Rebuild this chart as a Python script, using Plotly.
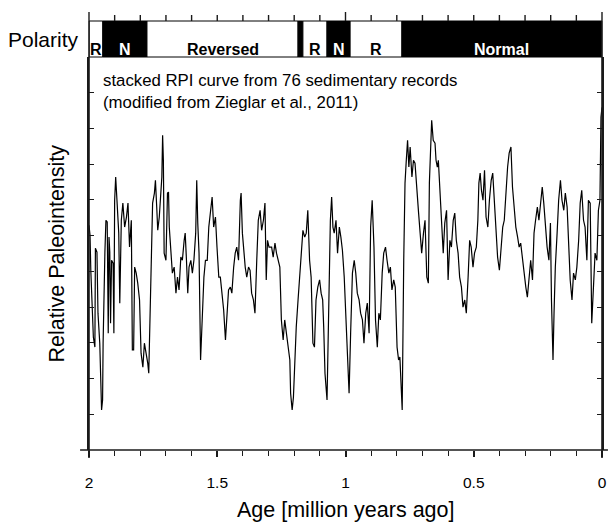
import plotly.graph_objects as go

# ---- data (age in Ma, relative paleointensity in arbitrary units) ----
age = [2.000, 1.996, 1.993, 1.986, 1.983, 1.977, 1.975, 1.969, 1.965, 1.958,
       1.954, 1.951, 1.947, 1.945, 1.938, 1.934, 1.929, 1.925, 1.922, 1.919,
       1.916, 1.912, 1.906, 1.903, 1.900, 1.896, 1.891, 1.884, 1.880, 1.874,
       1.868, 1.861, 1.854, 1.848, 1.842, 1.835, 1.831, 1.826, 1.822, 1.816,
       1.810, 1.803, 1.797, 1.790, 1.784, 1.777, 1.771, 1.767, 1.762, 1.758,
       1.752, 1.745, 1.741, 1.736, 1.732, 1.726, 1.719, 1.716, 1.713, 1.710,
       1.707, 1.700, 1.694, 1.690, 1.687, 1.681, 1.675, 1.668, 1.661, 1.655,
       1.649, 1.642, 1.636, 1.629, 1.625, 1.620, 1.615, 1.610, 1.603, 1.597,
       1.591, 1.584, 1.580, 1.576, 1.571, 1.565, 1.559, 1.552, 1.546, 1.539,
       1.533, 1.526, 1.520, 1.514, 1.507, 1.501, 1.494, 1.488, 1.481, 1.475,
       1.468, 1.462, 1.456, 1.449, 1.443, 1.436, 1.430, 1.424, 1.417, 1.410,
       1.407, 1.402, 1.398, 1.391, 1.385, 1.378, 1.372, 1.366, 1.359, 1.353,
       1.346, 1.340, 1.333, 1.327, 1.320, 1.314, 1.309, 1.304, 1.298, 1.288,
       1.282, 1.275, 1.269, 1.263, 1.256, 1.250, 1.243, 1.237, 1.231, 1.224,
       1.217, 1.214, 1.208, 1.203, 1.198, 1.192, 1.185, 1.179, 1.173, 1.166,
       1.159, 1.153, 1.147, 1.140, 1.134, 1.127, 1.121, 1.115, 1.108, 1.101,
       1.095, 1.089, 1.085, 1.080, 1.072, 1.067, 1.059, 1.054, 1.049, 1.044,
       1.037, 1.031, 1.024, 1.018, 1.012, 1.005, 0.999, 0.992, 0.986, 0.980,
       0.973, 0.966, 0.960, 0.954, 0.947, 0.941, 0.934, 0.928, 0.921, 0.915,
       0.908, 0.902, 0.896, 0.889, 0.883, 0.876, 0.870, 0.864, 0.857, 0.851,
       0.844, 0.838, 0.831, 0.825, 0.819, 0.812, 0.806, 0.799, 0.793, 0.788,
       0.783, 0.779, 0.773, 0.768, 0.763, 0.758, 0.753, 0.748, 0.741, 0.735,
       0.729, 0.722, 0.715, 0.709, 0.703, 0.696, 0.690, 0.683, 0.677, 0.673,
       0.668, 0.664, 0.658, 0.651, 0.647, 0.642, 0.638, 0.632, 0.625, 0.619,
       0.613, 0.606, 0.600, 0.593, 0.587, 0.580, 0.574, 0.568, 0.561, 0.555,
       0.548, 0.542, 0.535, 0.529, 0.522, 0.516, 0.510, 0.503, 0.497, 0.490,
       0.484, 0.480, 0.475, 0.470, 0.464, 0.458, 0.452, 0.445, 0.439, 0.432,
       0.426, 0.420, 0.413, 0.407, 0.400, 0.394, 0.387, 0.381, 0.375, 0.368,
       0.362, 0.355, 0.349, 0.342, 0.336, 0.329, 0.323, 0.317, 0.310, 0.304,
       0.297, 0.291, 0.284, 0.278, 0.271, 0.265, 0.259, 0.252, 0.246, 0.239,
       0.233, 0.227, 0.220, 0.214, 0.207, 0.201, 0.197, 0.194, 0.191, 0.187,
       0.182, 0.175, 0.169, 0.162, 0.156, 0.149, 0.143, 0.136, 0.130, 0.124,
       0.117, 0.111, 0.104, 0.098, 0.091, 0.085, 0.079, 0.072, 0.066, 0.059,
       0.053, 0.046, 0.040, 0.033, 0.027, 0.020, 0.014, 0.008, 0.004, 0.000]

rpi = [6.29, 6.01, 5.03, 4.00, 3.16, 2.88, 5.65, 5.54, 3.83, 2.99,
       1.48, 1.12, 1.40, 2.99, 5.54, 6.43, 6.38, 3.27, 5.96, 5.54,
       3.55, 5.31, 5.23, 3.27, 6.99, 7.64, 6.99, 6.07, 4.11, 6.43,
       6.91, 6.24, 6.52, 6.91, 5.68, 6.43, 2.80, 2.80, 5.12, 4.95,
       4.67, 4.20, 2.71, 2.32, 2.99, 2.71, 2.43, 2.15, 3.83, 5.12,
       6.91, 7.19, 7.55, 6.80, 6.15, 6.52, 7.36, 7.64, 8.81, 8.11,
       5.51, 5.31, 7.19, 7.22, 6.24, 5.68, 4.95, 5.12, 4.39, 4.84,
       4.48, 5.40, 5.31, 5.87, 6.07, 5.31, 4.39, 5.12, 5.31, 4.95,
       5.31, 6.07, 7.55, 6.35, 5.51, 2.52, 3.64, 4.84, 5.31, 5.31,
       6.24, 6.63, 7.08, 6.24, 6.52, 5.68, 4.84, 4.84, 4.39, 3.92,
       3.08, 3.83, 4.48, 4.56, 4.39, 5.12, 5.51, 5.68, 5.31, 6.99,
       7.19, 6.07, 5.68, 5.12, 4.84, 5.12, 5.03, 4.39, 4.20, 3.83,
       5.31, 6.43, 6.71, 6.15, 6.43, 6.91, 4.76, 5.87, 5.68, 5.68,
       5.40, 5.79, 5.51, 5.31, 5.12, 3.64, 3.08, 3.64, 3.27, 2.99,
       2.52, 1.59, 1.12, 1.48, 2.52, 3.44, 4.20, 4.76, 5.31, 6.15,
       5.96, 6.07, 6.71, 5.31, 4.84, 2.99, 2.88, 4.20, 4.56, 4.76,
       4.39, 4.20, 3.44, 2.15, 1.40, 3.44, 6.43, 7.08, 6.24, 6.07,
       6.43, 5.51, 6.24, 5.96, 5.59, 4.84, 3.83, 2.52, 1.59, 3.27,
       4.95, 5.31, 4.95, 4.39, 4.20, 3.83, 3.64, 2.99, 3.83, 4.11,
       3.27, 6.24, 6.99, 5.68, 3.64, 2.88, 3.83, 3.64, 4.95, 5.51,
       5.68, 5.31, 4.95, 5.12, 4.48, 4.76, 4.56, 2.88, 2.52, 2.60,
       1.59, 1.12, 5.31, 7.47, 8.11, 8.67, 7.92, 8.48, 7.64, 8.11,
       8.03, 7.19, 6.63, 6.07, 5.51, 6.07, 6.43, 4.84, 4.67, 7.47,
       8.31, 9.23, 8.67, 8.59, 8.11, 7.92, 8.11, 7.36, 6.43, 5.51,
       6.35, 6.71, 4.76, 5.87, 5.68, 6.43, 6.63, 5.87, 5.51, 4.84,
       4.56, 4.00, 4.20, 3.83, 4.84, 5.87, 5.68, 5.12, 5.51, 5.68,
       6.43, 7.47, 7.75, 7.27, 6.99, 7.83, 6.52, 6.24, 6.99, 7.55,
       7.75, 6.99, 6.24, 5.40, 5.03, 5.68, 6.24, 6.43, 7.27, 7.92,
       8.31, 8.48, 7.36, 6.63, 6.24, 5.96, 5.68, 5.79, 5.31, 4.84,
       4.56, 4.28, 4.95, 5.31, 4.76, 6.07, 6.43, 6.80, 6.43, 6.99,
       7.36, 6.91, 6.15, 5.68, 5.31, 6.35, 4.20, 2.88, 2.52, 3.83,
       5.12, 6.07, 6.99, 7.55, 6.99, 6.71, 7.19, 6.80, 5.68, 4.76,
       4.20, 4.95, 4.76, 5.12, 5.87, 6.91, 7.27, 6.43, 6.24, 5.31,
       6.99, 6.91, 3.55, 4.56, 5.51, 5.31, 6.71, 6.99, 9.31, 9.59]

# polarity chrons (older edge, younger edge, polarity, label)
chron_old = [2.000, 1.946, 1.774, 1.185, 1.166, 1.072, 0.982, 0.780]
chron_young = [1.946, 1.774, 1.185, 1.166, 1.072, 0.982, 0.780, 0.000]
chron_pol = ["R", "N", "R", "N", "R", "N", "R", "N"]
chron_label = ["R", "N", "Reversed", "", "R", "N", "R", "Normal"]

x_ticks = [2, 1.5, 1, 0.5, 0]
x_ticklabels = ["2", "1.5", "1", "0.5", "0"]
bar_tick_ages = [round(2.0 - 0.1 * i, 1) for i in range(21)]
bar_major_ages = [2.0, 1.0, 0.0]

FONT = "Liberation Sans, Arial, sans-serif"
AX = "#1a1a1a"

W, H = 615, 522
ML, MR, MT, MB = 89, 8, 21, 72
PH = H - MT - MB
PW = W - ML - MR
main_top = (450 - 57) / PH  # paper fraction where main panel ends / bar starts
X_RANGE = [2, 0]


def age_to_paper(a):
    return (a - X_RANGE[0]) / (X_RANGE[1] - X_RANGE[0])


fig = go.Figure()
fig.add_trace(go.Scatter(x=age, y=rpi, mode="lines",
                         line=dict(color="black", width=1.2),
                         showlegend=False, hoverinfo="skip"))

shapes = []
annotations = []
for o, yng, p, lab in zip(chron_old, chron_young, chron_pol, chron_label):
    fill = "black" if p == "N" else "white"
    shapes.append(dict(type="rect", xref="x", yref="paper", x0=o, x1=yng,
                       y0=main_top, y1=1.0, fillcolor=fill,
                       line=dict(color="black", width=1), layer="above"))
    if lab:
        annotations.append(dict(x=(o + yng) / 2, y=(main_top + 1.0) / 2,
                                xref="x", yref="paper", text=lab,
                                showarrow=False,
                                font=dict(family=FONT, size=16,
                                          color="white" if p == "N" else "black",
                                          weight="bold")))

# tick marks above the polarity bar
for a in bar_tick_ages:
    xp = age_to_paper(a)
    tl = 9 if a in bar_major_ages else 6
    shapes.append(dict(type="line", xref="paper", yref="paper", x0=xp, x1=xp,
                       y0=1.0, y1=1.0 + tl / PH,
                       line=dict(color=AX, width=1.4), layer="above"))

ext_b = 8 / PH
# frame lines (with small extensions as in the original)
for xp in (0, 1):
    shapes.append(dict(type="line", xref="paper", yref="paper", x0=xp, x1=xp,
                       y0=-ext_b, y1=1.0, line=dict(color=AX, width=1.6),
                       layer="above"))
shapes.append(dict(type="line", xref="paper", yref="paper", x0=-9 / PW,
                   x1=1 + 6 / PW, y0=0, y1=0, line=dict(color=AX, width=1.6),
                   layer="above"))

annotations.append(dict(x=-8 / PW, y=(main_top + 1.0) / 2, xref="paper",
                        yref="paper", text="Polarity", showarrow=False,
                        xanchor="right", yanchor="middle",
                        font=dict(family=FONT, size=21, color="black")))
annotations.append(dict(x=12 / PW, y=(450 - 69) / PH, xref="paper",
                        yref="paper", align="left", xanchor="left",
                        yanchor="top",
                        text="stacked RPI curve from 76 sedimentary records<br>(modified from Zieglar et al., 2011)",
                        showarrow=False,
                        font=dict(family=FONT, size=16.8, color="black")))
annotations.append(dict(x=-46 / PW, y=(450 - 253) / PH, xref="paper",
                        yref="paper", text="Relative Paleointensity",
                        textangle=-90, showarrow=False,
                        font=dict(family=FONT, size=21.5, color="black")))
annotations.append(dict(x=0.5, y=-(510 - 450) / PH, xref="paper",
                        yref="paper", text="Age [million years ago]",
                        showarrow=False, yanchor="middle",
                        font=dict(family=FONT, size=21.5, color="black")))

fig.update_layout(
    width=W, height=H,
    margin=dict(l=ML, r=MR, t=MT, b=MB, pad=0),
    paper_bgcolor="white", plot_bgcolor="white",
    font=dict(family=FONT, color="black"),
    xaxis=dict(range=X_RANGE, tickvals=x_ticks, ticktext=x_ticklabels,
               ticks="outside", ticklen=6, tickwidth=1.5, tickcolor=AX,
               showline=False, showgrid=False, zeroline=False,
               tickfont=dict(family=FONT, size=15.5, color="black"),
               ticklabelstandoff=12,
               minor=dict(dtick=0.1, ticks="outside", ticklen=5,
                          tickwidth=1.3, tickcolor=AX, showgrid=False)),
    yaxis=dict(range=[0, 11], domain=[0, main_top], dtick=1, tick0=0,
               showticklabels=False, ticks="inside", ticklen=5,
               tickwidth=1.3, tickcolor=AX, mirror="ticks",
               showline=True, linecolor=AX, linewidth=1.6,
               showgrid=False, zeroline=False),
    shapes=shapes,
    annotations=annotations,
)

fig.write_html("out.html")
